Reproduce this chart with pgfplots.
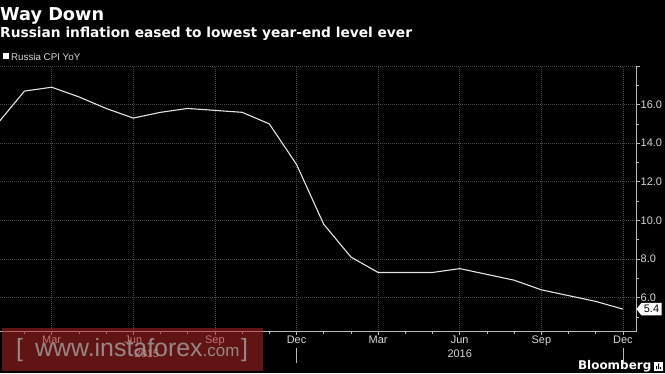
\documentclass[border=0pt]{standalone}
\usepackage{fontspec}
\setmainfont{Liberation Sans}
\newfontfamily\titlefont{DejaVu Sans}
\usepackage{pgfplots}
\pgfplotsset{compat=1.18}
\definecolor{gridc}{RGB}{72,72,72}
\definecolor{linec}{RGB}{228,228,228}
\definecolor{txt}{RGB}{215,215,215}
\definecolor{axisc}{RGB}{185,185,185}
\definecolor{wmred}{RGB}{175,38,38}
\definecolor{wmtext}{RGB}{165,165,165}
\begin{document}
\begin{tikzpicture}[x=1bp,y=1bp]
\useasboundingbox (0,0) rectangle (665,373);
\fill[black] (0,0) rectangle (665,373);
\node[anchor=base west, inner sep=0, text=white, font=\titlefont\fontsize{17.8}{20}\selectfont\bfseries] at (0,352.3) {Way Down};
\node[anchor=base west, inner sep=0, text=white, font=\titlefont\fontsize{13.8}{15}\selectfont\bfseries] at (0,335.3) {Russian inflation eased to lowest year-end level ever};
\fill[white] (3.3,313.7) rectangle (9.3,319.7);
\node[anchor=base west, inner sep=0, text=txt, font=\fontsize{9.8}{11}\selectfont] at (11,313) {Russia CPI YoY};
\begin{axis}[
  at={(0bp,41.3bp)}, anchor=south west,
  width=636bp, height=265.7bp, scale only axis,
  xmin=0.1, xmax=23.48, ymin=4.23, ymax=18,
  axis x line*=bottom, axis y line*=right,
  clip=false,
  tick align=outside,
  xtick={2,5,8,11,14,17,20,23},
  xticklabels={Mar,Jun,Sep,Dec,Mar,Jun,Sep,Dec},
  minor xtick={0,1,...,23},
  ytick={6,8,10,12,14,16,18},
  yticklabels={6.0,8.0,10.0,12.0,14.0,16.0,{}},
  minor ytick={5,7,...,17},
  grid=major,
  major grid style={gridc, line width=0.6bp, dash pattern=on 1bp off 1bp},
  minor grid style={draw=none},
  major tick length=3.5bp, minor tick length=2.5bp,
  tick style={axisc, line width=0.6bp},
  axis line style={axisc, line width=0.8bp},
  tick label style={text=txt, font=\fontsize{11}{12}\selectfont},
  /pgf/number format/assume math mode=true,
  xticklabel style={inner ysep=0.5bp},
  yticklabel style={anchor=west, inner xsep=1bp},
]
\addplot[linec, line width=1.1bp, no markers] coordinates {
(0,15.0) (1,16.7) (2,16.9) (3,16.4) (4,15.8) (5,15.3) (6,15.6) (7,15.8)
(8,15.7) (9,15.6) (10,15.0) (11,12.9) (12,9.8) (13,8.1) (14,7.3) (15,7.3)
(16,7.3) (17,7.5) (18,7.2) (19,6.9) (20,6.4) (21,6.1) (22,5.8) (23,5.4)
};
\draw[axisc, line width=0.6bp] (axis cs:11,4.23) ++(0bp,-16.5bp) -- ++(0bp,-15bp);
\draw[axisc, line width=0.6bp] (axis cs:23,4.23) ++(0bp,-16.5bp) -- ++(0bp,-15bp);
\fill[white] (axis cs:23.48,5.4) ++(0.5bp,0bp) -- ++(5bp,6.3bp) -- ++(20bp,0bp) -- ++(0bp,-12.6bp) -- ++(-20bp,0bp) -- cycle;
\node[text=black, inner sep=0, font=\fontsize{11}{12}\selectfont] at (axis cs:23.48,5.4) [xshift=15.5bp] {5.4};
\end{axis}
\node[anchor=base, inner sep=0, text=txt, font=\fontsize{11}{12}\selectfont] at (146.9,15.3) {2015};
\node[anchor=base, inner sep=0, text=txt, font=\fontsize{11}{12}\selectfont] at (459.7,15.3) {2016};
\node[anchor=base east, inner sep=0, text=white, font=\titlefont\fontsize{12}{13}\selectfont\bfseries] at (651.5,3.3) {Bloomberg};
\fill[white] (654,2.5) rectangle (663,11.5);
\fill[black] (656,4) rectangle (657,7) (658,4) rectangle (659,9.5) (660,4) rectangle (661,6);
\fill[wmred, opacity=0.55] (2,2) rectangle (263,45.3);
\begin{scope}[opacity=0.8]
\node[anchor=base west, inner sep=0, text=wmtext, font=\fontsize{25}{26}\selectfont] at (16,16.3) {[};
\node[anchor=base west, inner sep=0, text=wmtext, font=\fontsize{25}{26}\selectfont] at (35,16.3) {www.instaforex{\fontsize{17}{18}\selectfont.com}};
\node[anchor=base west, inner sep=0, text=wmtext, font=\fontsize{25}{26}\selectfont] at (241,16.3) {]};
\end{scope}
\end{tikzpicture}
\end{document}
